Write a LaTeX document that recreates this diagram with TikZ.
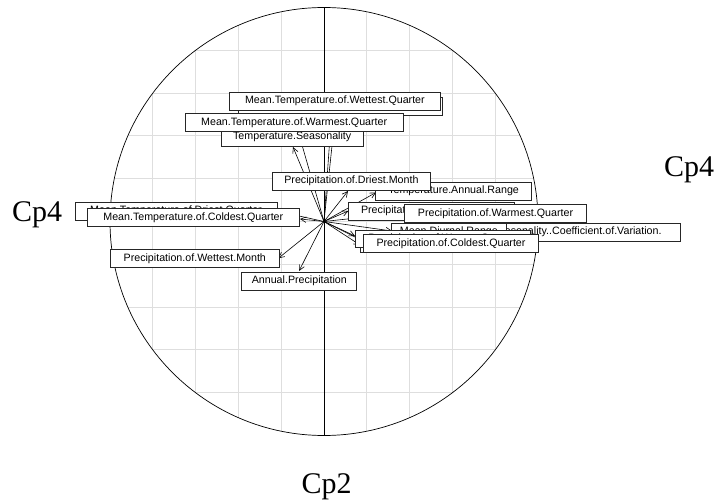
\documentclass[tikz,border=0pt]{standalone}
\usepackage{fontspec}
\setmainfont{Liberation Serif}
\newfontfamily\labfont{Liberation Sans}
\usetikzlibrary{arrows.meta}
\begin{document}
\begin{tikzpicture}[x=1pt,y=-1pt,
  gridline/.style={draw=black!13, line width=0.9pt},
  lbl/.style={draw=black!85, line width=0.8pt, fill=white, text=black,
    font=\labfont\fontsize{10.68}{12}\selectfont, inner sep=0pt,
    minimum height=17.7pt, text height=7.7pt, text depth=2.2pt},
  axlabel/.style={font=\fontsize{30}{34}\selectfont, inner sep=0pt, anchor=base west},
  arr/.style={draw=black, line width=0.6pt, -{Straight Barb[length=5.5pt,width=5.5pt]}}]
\useasboundingbox (0,0) rectangle (719,502);
\fill[white] (0,0) rectangle (719,502);

% unit circle with its grid
\coordinate (o) at (324,221.5);
\begin{scope}
  \clip (o) circle (214);
  \foreach \k in {-4,...,4} {
    \draw[gridline] (324+\k*42.8,0) -- (324+\k*42.8,502);
    \draw[gridline] (0,221.5+\k*42.8) -- (719,221.5+\k*42.8);
  }
\end{scope}
\draw[line width=0.7pt] (o) circle (214);
\coordinate (vtop) at (324,7.5);
\coordinate (vbot) at (324,435.5);
\draw[line width=0.7pt] (vtop) -- (vbot);

% loading arrows
\coordinate (t1) at (293,147);
\coordinate (t2) at (300,138);
\coordinate (t3) at (331,122);
\coordinate (t4) at (336,108);
\coordinate (t5) at (300,219);
\coordinate (t6) at (290,214);
\coordinate (t7) at (278.3,258.3);
\coordinate (t8) at (299,271);
\coordinate (t9) at (348,191);
\coordinate (t10) at (376,192.5);
\coordinate (t11) at (348.3,211);
\coordinate (t12) at (403,213);
\coordinate (t13) at (392,231);
\coordinate (t14) at (363,241);
\coordinate (t15) at (355,236);
\coordinate (t16) at (360,245);
\foreach \t in {t1,t2,t3,t4,t5,t6,t7,t8,t9,t10,t11,t12,t13,t14,t15,t16}
  \draw[arr] (o) -- (\t);

% variable labels, later ones drawn on top
\node[lbl, minimum width=151pt] (amt) at (435.5,243.9) {Annual.Mean.Temperature};
\node[lbl, minimum width=142.3pt] (tsea) at (292.2,137.1) {Temperature.Seasonality};
\node[lbl, minimum width=203.9pt] (mxwm) at (340.5,106.2) {Max.Temperature.of.Warmest.Month};
\node[lbl, minimum width=156.2pt] (tar) at (453.6,191.1) {Temperature.Annual.Range};
\node[lbl, minimum width=211.2pt] (mtwq) at (334.9,101.2) {Mean.Temperature.of.Wettest.Quarter};
\node[lbl, minimum width=201.9pt] (mtdq) at (176,211.2) {Mean.Temperature.of.Driest.Quarter};
\node[lbl, minimum width=218.5pt] (mtwaq) at (294.2,122.5) {Mean.Temperature.of.Warmest.Quarter};
\node[lbl, minimum width=211.2pt] (mtcq) at (193.3,217.4) {Mean.Temperature.of.Coldest.Quarter};
\node[lbl, minimum width=115.1pt] (ap) at (299.3,281.2) {Annual.Precipitation};
\node[lbl, minimum width=168.2pt] (pwm) at (194.8,258.7) {Precipitation.of.Wettest.Month};
\node[lbl, minimum width=158.8pt] (pdm) at (351.4,181.2) {Precipitation.of.Driest.Month};
\node[lbl, minimum width=269.6pt] (pcv) at (545.8,232.2) {Precipitation.Seasonality..Coefficient.of.Variation.};
\node[lbl, minimum width=115.8pt] (mdr) at (448.9,232.2) {Mean.Diurnal.Range};
\node[lbl, minimum width=175.4pt] (pwq) at (442.7,238.9) {Precipitation.of.Wettest.Quarter};
\node[lbl, minimum width=166.1pt] (pdq) at (431.4,211.2) {Precipitation.of.Driest.Quarter};
\node[lbl, minimum width=182.7pt] (pwaq) at (495.5,213.3) {Precipitation.of.Warmest.Quarter};
\node[lbl, minimum width=175.4pt] (pcq) at (451,243.7) {Precipitation.of.Coldest.Quarter};

% component names
\node[axlabel] (cl) at (12,221.5) {Cp4};
\node[axlabel] (cr) at (664,177) {Cp4};
\node[axlabel] (cb) at (301.5,493) {Cp2};
\end{tikzpicture}
\end{document}
